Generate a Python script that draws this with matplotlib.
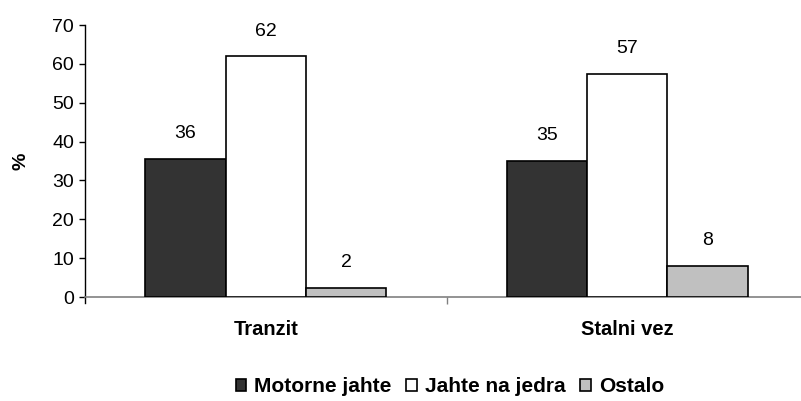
'''
Share of yacht types for transit and permanent berth (grouped bar chart).
'''
import numpy as np
import matplotlib.pyplot as plt

plt.rcParams['font.family'] = ['Liberation Sans', 'DejaVu Sans']

# Data
categories = ["Tranzit", "Stalni vez"]
series_names = ["Motorne jahte", "Jahte na jedra", "Ostalo"]
motorne = [35.6, 35.0]
jedra = [62.0, 57.4]
ostalo = [2.4, 8.0]
value_labels = [["36", "35"], ["62", "57"], ["2", "8"]]
colors = ["#333333", "#ffffff", "#c0c0c0"]

# Figure with the plot area placed like the original
fig = plt.figure(figsize=(8.01, 4.01), dpi=100)
ax = fig.add_axes([85 / 801, 1 - 297 / 401, 723 / 801, 272 / 401])

x = np.arange(len(categories))
width = 0.222
all_series = [motorne, jedra, ostalo]

bars = []
for i, (values, color) in enumerate(zip(all_series, colors)):
  b = ax.bar(x + (i - 1) * width, values, width, color=color,
             edgecolor="black", linewidth=1.2, label=series_names[i], zorder=3)
  bars.append(b)
  for rect, text in zip(b, value_labels[i]):
    ax.annotate(text, (rect.get_x() + rect.get_width() / 2, rect.get_height()),
                xytext=(0, 18), textcoords="offset points",
                ha="center", va="center", fontsize=14)

# Axes styling
ax.set_xlim(-0.5, 1.5)
ax.set_ylim(0, 70)
ax.set_yticks(np.arange(0, 71, 10))
ax.tick_params(axis="y", labelsize=14, length=4, width=1, pad=4)
ax.set_xticks([0.5])
ax.set_xticklabels([""])
ax.tick_params(axis="x", length=5, width=1, color="#808080")
for i, cat in enumerate(categories):
  ax.text(i, -0.12, cat, transform=ax.get_xaxis_transform(),
          ha="center", va="center", fontsize=14.5, fontweight="bold")

for side in ["top", "right"]:
  ax.spines[side].set_visible(False)
ax.spines["bottom"].set_color("#808080")
ax.spines["bottom"].set_linewidth(1.2)
ax.spines["left"].set_linewidth(1)
ax.spines["left"].set_bounds(-1.5, 70)
ax.set_ylabel("%", fontsize=14, fontweight="bold", labelpad=16)

# Legend below the plot
fig.legend(handles=bars, labels=series_names, loc="center",
           bbox_to_anchor=(450 / 801, 1 - 387 / 401), ncol=3, frameon=False,
           prop={"size": 15, "weight": "bold"}, handlelength=0.5,
           handleheight=0.5, handletextpad=0.4, columnspacing=0.7)

plt.savefig("out.png", dpi=100)
